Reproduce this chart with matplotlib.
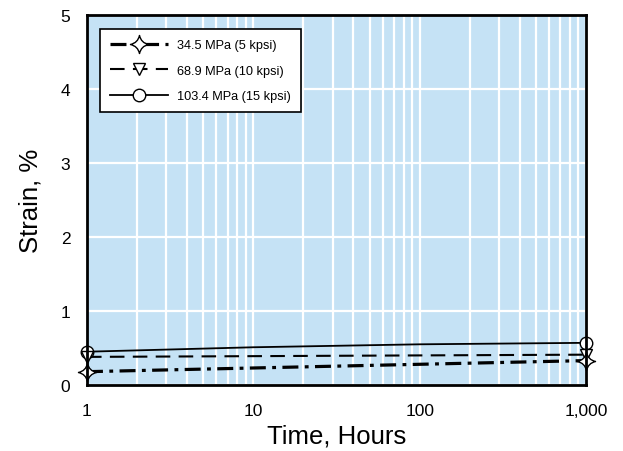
import matplotlib
matplotlib.use("Agg")
import matplotlib.pyplot as plt
from matplotlib.path import Path
from matplotlib.ticker import FixedLocator, FuncFormatter, LogLocator, NullFormatter
import numpy as np

plt.rcParams['font.family'] = ['Liberation Sans', 'DejaVu Sans']

# Data
hours = [1, 10, 100, 1000]
strain_5ksi = [0.18, 0.23, 0.28, 0.33]
strain_10ksi = [0.38, 0.39, 0.40, 0.41]
strain_15ksi = [0.45, 0.51, 0.55, 0.57]
labels = ["34.5 MPa (5 kpsi)", "68.9 MPa (10 kpsi)", "103.4 MPa (15 kpsi)"]
x_ticks = [1, 10, 100, 1000]
x_ticklabels = ["1", "10", "100", "1,000"]
y_ticks = [0, 1, 2, 3, 4, 5]

# 4-point concave star marker
c = 0.18
verts = [(0, 1), (c, c), (1, 0), (c, -c), (0, -1), (-c, -c), (-1, 0), (-c, c), (0, 1), (0, 1)]
codes = [Path.MOVETO, Path.CURVE3, Path.CURVE3, Path.CURVE3, Path.CURVE3,
         Path.CURVE3, Path.CURVE3, Path.CURVE3, Path.CURVE3, Path.CLOSEPOLY]
star4 = Path(verts, codes)

fig = plt.figure(figsize=(6.23, 4.52), dpi=100)
ax = fig.add_axes([0.1396, 0.146, 0.801, 0.8186])
ax.set_facecolor('#c5e2f5')

ax.plot(hours, strain_15ksi, '-', color='black', lw=1.3, marker='o', ms=9,
        mfc='white', mec='black', mew=1.0, markevery=[0, -1], label=labels[2],
        zorder=3, clip_on=False)
ax.plot(hours, strain_10ksi, color='black', lw=1.5, dashes=(7, 4), marker='v', ms=9,
        mfc='white', mec='black', mew=1.0, markevery=[0, -1], label=labels[1],
        zorder=4, clip_on=False)
ax.plot(hours, strain_5ksi, color='black', lw=2.3, dashes=(5, 2, 1.2, 2), marker=star4, ms=13,
        mfc='white', mec='black', mew=1.0, markevery=[0, -1], label=labels[0],
        zorder=5, clip_on=False)

ax.set_xscale('log')
ax.set_xlim(1, 1000)
ax.set_ylim(0, 5)
ax.xaxis.set_major_locator(FixedLocator(x_ticks))
ax.xaxis.set_major_formatter(FuncFormatter(lambda v, p: x_ticklabels[x_ticks.index(int(round(v)))] if int(round(v)) in x_ticks else ""))
ax.xaxis.set_minor_locator(LogLocator(base=10, subs=np.arange(2, 10)))
ax.xaxis.set_minor_formatter(NullFormatter())
ax.set_yticks(y_ticks)

ax.grid(True, which='both', axis='x', color='white', lw=1.6)
ax.grid(True, which='major', axis='y', color='white', lw=1.6)
ax.set_axisbelow(True)

ax.tick_params(which='both', length=0, labelsize=12.5)
ax.tick_params(axis='x', pad=13)
ax.tick_params(axis='y', pad=12)
for s in ax.spines.values():
    s.set_linewidth(2.0)
    s.set_color('black')
    s.set_zorder(6)

ax.set_xlabel("Time, Hours", fontsize=18.5, labelpad=4)
ax.set_ylabel("Strain, %", fontsize=18.5, labelpad=13)

h, l = ax.get_legend_handles_labels()
leg = ax.legend(h[::-1], l[::-1], loc='upper left', bbox_to_anchor=(0.026, 0.962),
                fontsize=9.2, frameon=True, fancybox=False, edgecolor='black',
                framealpha=1, handlelength=4.5, handletextpad=0.7, borderpad=0.8,
                labelspacing=1.05, borderaxespad=0)
leg.get_frame().set_linewidth(1.2)

fig.savefig("out.png", dpi=100)
